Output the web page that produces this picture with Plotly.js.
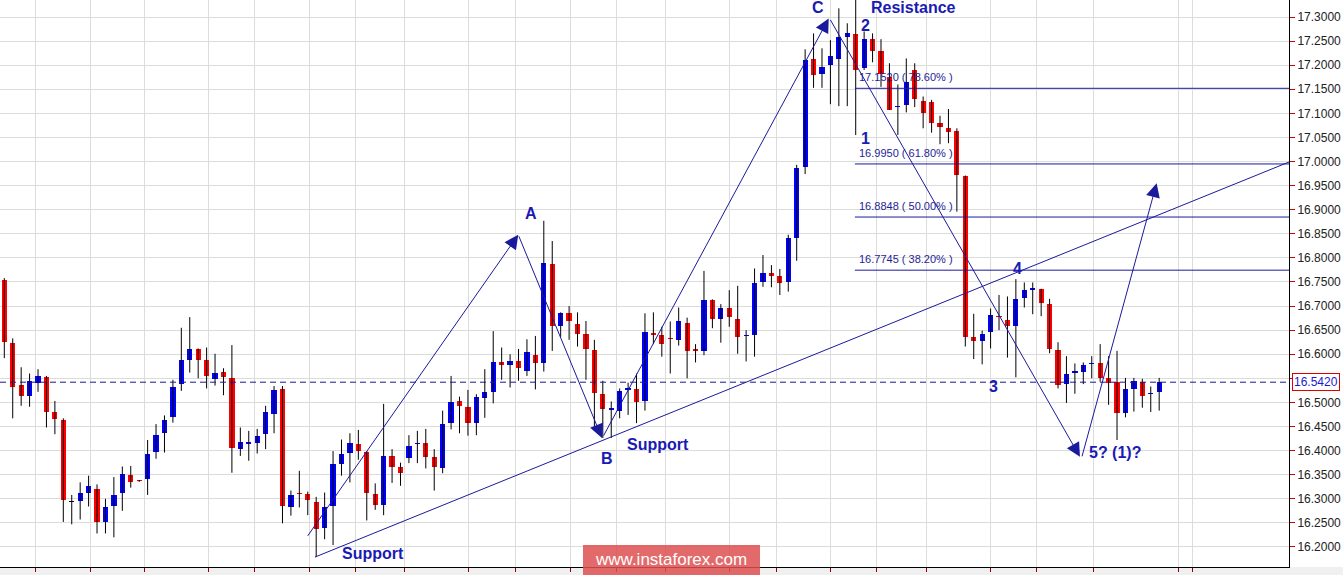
<!DOCTYPE html>
<html>
<head>
<meta charset="utf-8">
<script src="https://cdn.plot.ly/plotly-3.0.1.min.js"></script>
<style>html,body{margin:0;padding:0;background:#fff;}#chart{width:1343px;height:575px;}</style>
</head>
<body>
<div id="chart"></div>
<script>
// ---- Candle data (index = bar number) ----
const opens = [16.755,16.623,16.536,16.514,16.540,16.553,16.480,16.464,16.293,16.296,
16.313,16.320,16.252,16.286,16.311,16.349,16.338,16.342,16.398,16.436,
16.470,16.538,16.589,16.611,16.588,16.549,16.563,16.551,16.404,16.414,
16.416,16.434,16.477,16.528,16.282,16.312,16.310,16.293,16.240,16.284,
16.372,16.396,16.414,16.398,16.310,16.288,16.389,16.367,16.385,16.413,
16.415,16.386,16.363,16.457,16.503,16.490,16.457,16.510,16.522,16.584,
16.578,16.587,16.566,16.598,16.582,16.787,16.659,16.685,16.663,16.642,
16.609,16.518,16.485,16.483,16.526,16.527,16.504,16.643,16.639,16.633,
16.630,16.664,16.611,16.607,16.713,16.673,16.697,16.673,16.637,16.639,
16.749,16.768,16.763,16.749,16.842,16.989,17.212,17.182,17.200,17.213,
17.259,17.265,17.194,17.254,17.229,17.175,17.113,17.117,17.189,17.126,
17.123,17.079,17.070,17.063,16.970,16.635,16.628,16.646,16.679,16.671,
16.659,16.716,16.734,16.735,16.704,16.609,16.538,16.562,16.564,16.579,
16.581,16.550,16.543,16.479,16.527,16.543,16.517,16.522];
const highs = [16.758,16.633,16.573,16.560,16.569,16.555,16.503,16.467,16.308,16.334,
16.348,16.330,16.300,16.345,16.367,16.368,16.339,16.422,16.455,16.473,
16.547,16.655,16.677,16.612,16.614,16.601,16.571,16.619,16.448,16.441,
16.445,16.493,16.534,16.534,16.317,16.358,16.315,16.304,16.313,16.399,
16.423,16.436,16.443,16.399,16.332,16.497,16.403,16.375,16.432,16.441,
16.445,16.403,16.483,16.555,16.512,16.526,16.517,16.569,16.648,16.614,
16.600,16.611,16.631,16.638,16.877,16.835,16.687,16.700,16.687,16.669,
16.630,16.545,16.502,16.529,16.541,16.560,16.685,16.687,16.657,16.668,
16.697,16.676,16.621,16.773,16.714,16.704,16.733,16.742,16.650,16.778,
16.806,16.785,16.777,16.848,16.993,17.233,17.266,17.235,17.252,17.318,
17.287,17.340,17.270,17.266,17.254,17.204,17.160,17.214,17.204,17.135,
17.128,17.095,17.109,17.069,16.971,16.684,16.649,16.695,16.723,16.720,
16.756,16.749,16.749,16.736,16.715,16.625,16.596,16.581,16.583,16.596,
16.621,16.596,16.607,16.551,16.551,16.549,16.533,16.551];
const lows = [16.592,16.467,16.493,16.491,16.522,16.448,16.434,16.252,16.247,16.257,
16.284,16.228,16.228,16.220,16.275,16.323,16.335,16.308,16.383,16.396,
16.458,16.524,16.562,16.550,16.529,16.535,16.515,16.354,16.389,16.379,
16.394,16.403,16.436,16.249,16.265,16.282,16.266,16.179,16.216,16.204,
16.348,16.334,16.381,16.255,16.277,16.266,16.333,16.327,16.374,16.374,
16.363,16.317,16.353,16.444,16.436,16.431,16.432,16.468,16.498,16.547,
16.531,16.545,16.555,16.527,16.564,16.607,16.636,16.630,16.616,16.547,
16.443,16.426,16.426,16.467,16.474,16.457,16.483,16.621,16.595,16.560,
16.618,16.550,16.583,16.598,16.654,16.624,16.657,16.601,16.585,16.595,
16.740,16.739,16.723,16.730,16.794,16.974,17.153,17.153,17.119,17.115,
17.115,17.055,17.190,17.206,17.155,17.107,17.055,17.102,17.113,17.069,
17.060,17.036,17.038,16.896,16.616,16.590,16.579,16.612,16.650,16.593,
16.552,16.697,16.683,16.679,16.602,16.529,16.499,16.518,16.538,16.550,
16.543,16.495,16.422,16.469,16.481,16.489,16.480,16.483];
const closes = [16.626,16.533,16.514,16.545,16.555,16.481,16.465,16.298,16.293,16.311,
16.327,16.252,16.282,16.308,16.351,16.335,16.336,16.393,16.432,16.464,
16.531,16.588,16.611,16.589,16.555,16.562,16.553,16.405,16.417,16.416,
16.430,16.480,16.526,16.286,16.308,16.310,16.298,16.238,16.282,16.372,
16.393,16.416,16.400,16.311,16.288,16.389,16.367,16.354,16.410,16.415,
16.387,16.365,16.455,16.500,16.493,16.458,16.511,16.521,16.584,16.577,
16.587,16.572,16.605,16.582,16.790,16.659,16.686,16.668,16.643,16.610,
16.519,16.486,16.487,16.524,16.528,16.500,16.646,16.641,16.621,16.631,
16.669,16.607,16.607,16.713,16.673,16.695,16.678,16.636,16.639,16.747,
16.768,16.763,16.747,16.841,16.986,17.211,17.180,17.196,17.219,17.258,
17.267,17.191,17.254,17.230,17.182,17.108,17.115,17.166,17.129,17.101,
17.081,17.072,17.061,16.972,16.636,16.628,16.643,16.682,16.677,16.659,
16.715,16.733,16.736,16.707,16.610,16.536,16.560,16.564,16.578,16.581,
16.550,16.541,16.479,16.527,16.545,16.514,16.519,16.542];

// Vertical grid (session boundaries) in bar-index units
const gridX = [3.72,10.25,16.6,24.28,29.7,36.18,41.72,47.53,55.12,60.7,67.19,72.64,78.46,86.08,91.62,97.95,103.52,109.34,116.93,122.39,129.15,139.35,141.0];

// Price axis ticks (16.5500 label is replaced by the last-price box)
const yTickVals = [16.20,16.25,16.30,16.35,16.40,16.45,16.50,16.55,16.60,16.65,16.70,16.75,16.80,16.85,16.90,16.95,17.00,17.05,17.10,17.15,17.20,17.25,17.30];
const yTickText = ['16.2000','16.2500','16.3000','16.3500','16.4000','16.4500','16.5000','','16.6000','16.6500','16.7000','16.7500','16.8000','16.8500','16.9000','16.9500','17.0000','17.0500','17.1000','17.1500','17.2000','17.2500','17.3000'];

// Fibonacci retracement levels
const fibLevels = [17.1520, 16.9950, 16.8848, 16.7745];
const fibPcts = ['78.60%', '61.80%', '50.00%', '38.20%'];
const fibStart = 100.9;

const lastPrice = 16.542;

// Wave arrows: [fromIndex, fromPrice, toIndex, toPrice]
const waveArrows = [
  [35.87, 16.220, 60.97, 16.848],
  [60.97, 16.848, 70.9, 16.426],
  [71.0, 16.428, 97.8, 17.297],
  [97.9, 17.297, 127.6, 16.387],
  [127.8, 16.385, 136.7, 16.955]
];
// Support trend line [x0, y0, x1, y1]
const supportLine = [36.85, 16.179, 152.4, 16.999];

// Labels: [text, index, price]
const waveLabels = [
  ['A', 62.48, 16.893], ['B', 71.5, 16.383], ['C', 96.5, 17.319],
  ['Resistance', 107.8, 17.319], ['2', 102.2, 17.283], ['1', 102.2, 17.047],
  ['3', 117.3, 16.534], ['4', 120.25, 16.779], ['5? (1)?', 131.8, 16.397],
  ['Support', 43.7, 16.187], ['Support', 77.55, 16.412]
];

const xRange = [-0.51, 152.4];
const yRange = [16.1584, 17.3353];

const idx = opens.map((_, i) => i);
const bodyBase = opens.map((o, i) => Math.min(o, closes[i]));
const bodyLen = opens.map((o, i) => Math.max(Math.abs(closes[i] - o), 0.003));
const bodyCol = opens.map((o, i) => closes[i] > o ? '#0000ff' : (closes[i] < o ? '#ff0000' : '#000000'));
const wx = [], wy = [];
idx.forEach(i => { wx.push(i, i, null); wy.push(lows[i], highs[i], null); });

const LINE = '#1a1a9c';
const TXT = '#1a1ab4';
const FONT = 'Liberation Sans, Arial, sans-serif';

const traces = [
  {type: 'scatter', mode: 'lines', x: wx, y: wy, line: {color: '#000000', width: 1}, hoverinfo: 'skip', showlegend: false},
  {type: 'bar', x: idx, base: bodyBase, y: bodyLen, width: 0.62,
   marker: {color: bodyCol, line: {width: 0}}, hoverinfo: 'skip', showlegend: false}
];

const shapes = [];
shapes.push({type: 'rect', xref: 'paper', yref: 'paper', x0: 0, x1: 1.05, y0: -0.02, y1: 0, fillcolor: '#f0f0f0', line: {width: 0}, layer: 'below'});
shapes.push({type: 'line', xref: 'x', yref: 'y', x0: supportLine[0], y0: supportLine[1], x1: supportLine[2], y1: supportLine[3], line: {color: LINE, width: 1}});
fibLevels.forEach(v => shapes.push({type: 'line', xref: 'x', yref: 'y', x0: fibStart, x1: xRange[1], y0: v, y1: v, line: {color: LINE, width: 1}}));
shapes.push({type: 'line', xref: 'x', yref: 'y', x0: xRange[0], x1: xRange[1], y0: lastPrice, y1: lastPrice, line: {color: '#1a1a8c', width: 1, dash: '6px,4px'}});
shapes.push({type: 'rect', xref: 'paper', yref: 'paper', x0: 583/1289, x1: 760/1289, y0: -0.02, y1: 22/567, fillcolor: 'rgba(222,80,80,0.85)', line: {width: 0}});

const annotations = [];
waveArrows.forEach(a => annotations.push({
  xref: 'x', yref: 'y', axref: 'x', ayref: 'y', x: a[2], y: a[3], ax: a[0], ay: a[1],
  text: '', showarrow: true, arrowhead: 2, arrowsize: 2.8, arrowwidth: 1, arrowcolor: LINE, standoff: 0, startstandoff: 0
}));
waveLabels.forEach(l => annotations.push({
  xref: 'x', yref: 'y', x: l[1], y: l[2], text: l[0], showarrow: false,
  xanchor: 'center', yanchor: 'middle', font: {family: FONT, size: 16, color: TXT, weight: 'bold'}
}));
fibLevels.forEach((v, k) => annotations.push({
  xref: 'x', yref: 'y', x: fibStart + 0.2, y: v + 0.0228, text: v.toFixed(4) + ' ( ' + fibPcts[k] + ' )',
  showarrow: false, xanchor: 'left', yanchor: 'middle', font: {family: FONT, size: 11, color: '#1e1e96'}
}));
annotations.push({
  xref: 'paper', yref: 'y', x: 1, y: lastPrice, xanchor: 'left', yanchor: 'middle', xshift: 3,
  text: lastPrice.toFixed(4), showarrow: false, font: {family: FONT, size: 12, color: '#1a1acc'},
  bgcolor: '#ffffff', bordercolor: '#e00000', borderwidth: 1, borderpad: 1
});
annotations.push({
  xref: 'paper', yref: 'paper', x: 671/1289, y: 8/567, xanchor: 'center', yanchor: 'middle',
  text: 'www.instaforex.com', showarrow: false, font: {family: FONT, size: 17, color: '#ffffff'}
});

const layout = {
  width: 1343, height: 575, autosize: false,
  margin: {l: 0, r: 54, t: 0, b: 8, pad: 0},
  paper_bgcolor: '#ffffff', plot_bgcolor: '#ffffff',
  showlegend: false, bargap: 0, hovermode: false,
  xaxis: {range: xRange, fixedrange: true, tickmode: 'array', tickvals: gridX, showticklabels: false,
          ticks: 'outside', ticklen: 4, tickcolor: '#8b0000', showgrid: true, gridcolor: '#dcdcdc', gridwidth: 1,
          showline: true, linecolor: '#000000', linewidth: 1, zeroline: false},
  yaxis: {range: yRange, fixedrange: true, side: 'right', tickmode: 'array', tickvals: yTickVals, ticktext: yTickText,
          ticks: 'outside', ticklen: 5, tickcolor: '#d00000',
          tickfont: {family: FONT, size: 12, color: '#222222'},
          showgrid: true, gridcolor: '#dcdcdc', gridwidth: 1, showline: true, linecolor: '#000000', linewidth: 1, zeroline: false},
  shapes: shapes, annotations: annotations
};

Plotly.newPlot('chart', traces, layout, {staticPlot: true, displayModeBar: false});
</script>
</body>
</html>
